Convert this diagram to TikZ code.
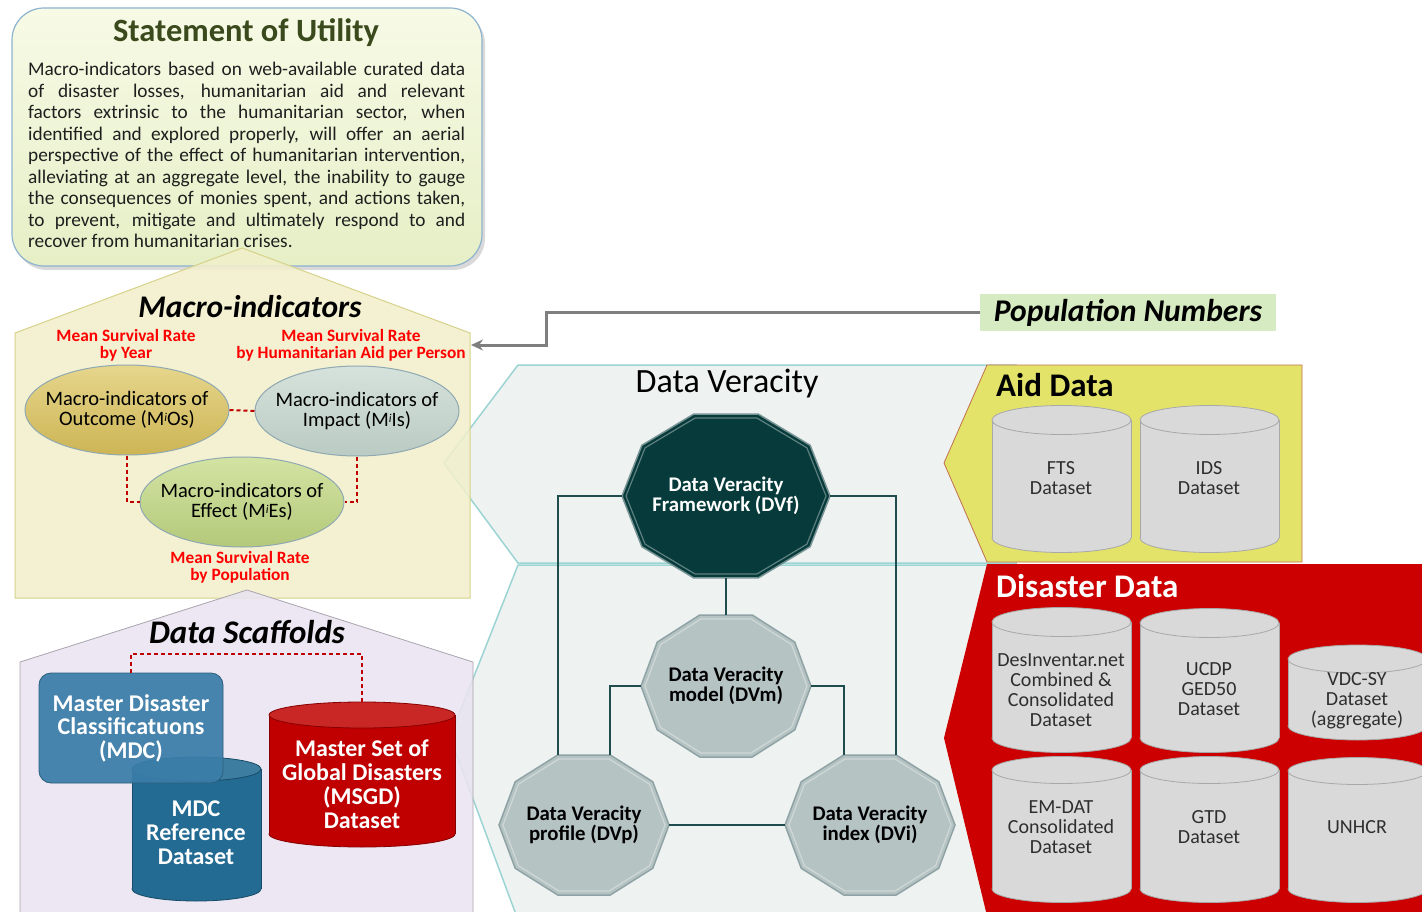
\documentclass[tikz,border=0pt]{standalone}
\usepackage{fontspec}
\setmainfont{Carlito}
\usetikzlibrary{calc,shadows,arrows.meta,shapes.geometric}
\definecolor{stmtline}{HTML}{8DB3CF}
\definecolor{stmttop}{HTML}{F7FAE6}
\definecolor{stmtbot}{HTML}{E6EFC6}
\definecolor{olivetxt}{HTML}{3A4A1C}
\definecolor{macrofill}{HTML}{F1EFCB}
\definecolor{macroline}{HTML}{D6D28A}
\definecolor{scaffill}{HTML}{E9E4F0}
\definecolor{scafline}{HTML}{A9A4AE}
\definecolor{msrred}{HTML}{FF0000}
\definecolor{dashred}{HTML}{C00000}
\definecolor{outtop}{HTML}{E6D68C}
\definecolor{outbot}{HTML}{CDB555}
\definecolor{imptop}{HTML}{D6E2DC}
\definecolor{impbot}{HTML}{BACBC3}
\definecolor{efftop}{HTML}{D3E3A3}
\definecolor{effbot}{HTML}{B4C97A}
\definecolor{ellline}{HTML}{8FA8B2}
\definecolor{mdcblue}{HTML}{3A7DA8}
\definecolor{mdcdark}{HTML}{236B93}
\definecolor{msgdred}{HTML}{C00000}
\definecolor{dvbandfill}{HTML}{EEF2F1}
\definecolor{dvbandline}{HTML}{9CD4D4}
\definecolor{dvfdark}{HTML}{073B3B}
\definecolor{dvgrey}{HTML}{B6C3C3}
\definecolor{dvgreyline}{HTML}{8FA3A6}
\definecolor{dvconn}{HTML}{1F4D4D}
\definecolor{aidfill}{HTML}{E3E369}
\definecolor{aidline}{HTML}{C0704D}
\definecolor{disfill}{HTML}{CC0000}
\definecolor{cylfill}{HTML}{D9D9D9}
\definecolor{cylline}{HTML}{A8A8A8}
\definecolor{popfill}{HTML}{D6EBC1}
\definecolor{arrowgrey}{HTML}{7F7F7F}

\newcommand\setfs[2]{\fontsize{#1}{#2}\selectfont}
\newcommand\supi{\raisebox{0.45ex}{\fontsize{12}{12}\selectfont\itshape i}}

% cylinder body: x1, x2, y top-centre, y bottom-centre, ry, body style, top style
\newcommand\cylbody[7]{%
  \pgfmathsetmacro\cylcx{(#1+#2)/2}%
  \pgfmathsetmacro\cylrx{(#2-#1)/2}%
  \path[#6] (\cylcx,#4) ellipse [x radius=\cylrx, y radius=#5];
  \fill[#6,draw=none] (#1,#3) rectangle (#2,#4);
  \draw[#6] (#1,#3) -- (#1,#4) (#2,#3) -- (#2,#4);
  \path[#7] (\cylcx,#3) ellipse [x radius=\cylrx, y radius=#5];
}
% decagon: cx, cy, rx, half height (flat top), style
\newcommand\decpath[3]{%
  (0:#1 and #2) -- (36:#1 and #2) -- (72:#1 and #2)
      -- (108:#1 and #2) -- (144:#1 and #2) -- (180:#1 and #2)
      -- (216:#1 and #2) -- (252:#1 and #2) -- (288:#1 and #2)
      -- (324:#1 and #2) -- cycle}
\newcommand\decagon[5]{%
  \pgfmathsetmacro\decry{#4/0.951057}%
  \pgfmathsetmacro\decrx{#3-4}%
  \pgfmathsetmacro\decryi{(#4-4)/0.951057}%
  \begin{scope}[shift={(#1,#2)}]
    \path[#5] \decpath{#3}{\decry}{};
    \path[draw=white, draw opacity=0.35, line width=1.2pt] \decpath{\decrx}{\decryi}{};
  \end{scope}}

\begin{document}
\begin{tikzpicture}[x=1pt,y=-1pt,
  reddash/.style={draw=dashred, line width=2pt, dash pattern=on 4pt off 3pt},
  dvconnector/.style={draw=dvconn, line width=1.4pt},
  redlbl/.style={text=msrred, font=\setfs{17.3}{16.8}\bfseries, align=center, inner sep=0pt},
  macroell/.style={ellipse, minimum width=204pt, minimum height=90pt, inner xsep=-13pt,
    inner ysep=0pt, draw=ellline, line width=1pt, align=center, font=\setfs{20.5}{20.5}},
  cyltext/.style={align=center, font=\setfs{20}{19.8}, text=black!82, inner sep=0pt},
  dvtext/.style={align=center, font=\setfs{20.8}{20}\bfseries, inner sep=0pt},
  dvdark/.style={fill=dvfdark, draw=dvfdark!55!white, line width=1.5pt},
  dvlight/.style={fill=dvgrey, draw=dvgreyline, line width=1.5pt},
  cylgrey/.style={fill=cylfill, draw=cylline, line width=0.8pt},
  cylblue/.style={fill=mdcdark, draw=mdcdark!70!black, line width=0.8pt},
  cylbluetop/.style={fill=mdcdark!88!white, draw=mdcdark!70!black, line width=0.8pt},
  cylred/.style={fill=msgdred, draw=msgdred!70!black, line width=0.8pt},
  cylredtop/.style={fill=msgdred!85!white, draw=msgdred!70!black, line width=0.8pt},
  whitebold/.style={text=white, align=center, inner sep=0pt},
]
\useasboundingbox (0,0) rectangle (1422,912);
\clip (0,0) rectangle (1422,912);

% ---------- Data Veracity bands ----------
\path[fill=dvbandfill, draw=dvbandline, line width=1.5pt]
  (444,463) -- (518,365) -- (1016,365) -- (1016,563) -- (518,563) -- cycle;
\path[fill=dvbandfill, draw=dvbandline, line width=1.5pt]
  (518,565) -- (1016,565) -- (1016,920) -- (518,920) -- (450,737) -- cycle;

% ---------- Aid and Disaster areas ----------
\path[fill=aidfill, draw=aidline, line width=0.8pt]
  (944,463) -- (987,365) -- (1302,365) -- (1302,562) -- (987,562) -- cycle;
\path[fill=disfill]
  (944,738) -- (987,564) -- (1430,564) -- (1430,920) -- (988,920) -- cycle;

% ---------- Statement of Utility box ----------
\node[draw=stmtline, line width=1.2pt, rounded corners=32pt, top color=stmttop,
  bottom color=stmtbot, minimum width=470pt, minimum height=258pt, inner sep=0pt,
  drop shadow={shadow xshift=3pt, shadow yshift=-4pt, opacity=0.3}]
  (stmt) at (247,137) {};

% ---------- houses ----------
\path[fill=macrofill, fill opacity=0.88, draw=macroline, line width=1pt]
  (15,598) -- (15,333) -- (242,248) -- (470,333) -- (470,598) -- cycle;
\path[fill=scaffill, fill opacity=0.88, draw=scafline, line width=0.8pt]
  (20,920) -- (20,662) -- (247,590) -- (473,662) -- (473,920) -- cycle;

% ---------- statement text ----------
\node[font=\setfs{32.5}{36}\bfseries, text=olivetxt, inner sep=0pt] (stmttitle) at (246,33) {Statement of Utility};
\node[anchor=north west, text width=437pt, align=justify, inner sep=0pt,
  font=\setfs{19.3}{21.5}, text=black!88] (stmtbody) at (28,62)
 {\hyphenpenalty=10000 \exhyphenpenalty=10000
  Macro-indicators based on web-available curated data\linebreak
  of disaster losses, humanitarian aid and relevant\linebreak
  factors extrinsic to the humanitarian sector, when\linebreak
  identified and explored properly, will offer an aerial\linebreak
  perspective of the effect of humanitarian intervention,\linebreak
  alleviating at an aggregate level, the inability to gauge\linebreak
  the consequences of monies spent, and actions taken,\linebreak
  to prevent, mitigate and ultimately respond to and\linebreak
  recover from humanitarian crises.};

% ---------- Macro-indicators ----------
\node[font=\setfs{31.5}{36}\bfseries\itshape, inner sep=0pt] (macrotitle) at (250,307) {Macro-indicators};
\node[redlbl] (lblyear) at (126,345) {Mean Survival Rate\\by Year};
\node[redlbl] (lblaid) at (351,345) {Mean Survival Rate\\by Humanitarian Aid per Person};
\node[redlbl] (lblpop) at (240,567) {Mean Survival Rate\\by Population};
\node[macroell, top color=outtop, bottom color=outbot] (outcome) at (127,410)
  {Macro-indicators of\\Outcome (M\supi Os)};
\node[macroell, top color=imptop, bottom color=impbot] (impact) at (357,411)
  {Macro-indicators of\\Impact (M\supi Is)};
\node[macroell, top color=efftop, bottom color=effbot] (effect) at (242,502)
  {Macro-indicators of\\Effect (M\supi Es)};
\draw[reddash] (outcome.east) -- (impact.west);
\draw[reddash] (outcome.south) |- (effect.west);
\draw[reddash] (impact.south) |- (effect.east);

% ---------- Data Scaffolds ----------
\node[font=\setfs{33}{36}\bfseries\itshape, inner sep=0pt] (scaftitle) at (247,632) {Data Scaffolds};
\cylbody{132}{261}{769}{889}{12}{cylblue}{cylbluetop}
\cylbody{269}{455}{715}{834}{13}{cylred}{cylredtop}
\node[rounded corners=12pt, minimum width=184pt, minimum height=110pt, fill=mdcblue,
  fill opacity=0.93, draw=mdcblue!75!black, line width=0.8pt, text opacity=1,
  whitebold, font=\setfs{24}{23.5}\bfseries] (mdc) at (131,728)
  {Master Disaster\\Classificatuons\\(MDC)};
\node[whitebold, font=\setfs{24}{24}\bfseries] (mdcref) at (196,833)
  {MDC\\Reference\\Dataset};
\node[whitebold, font=\setfs{24}{24}\bfseries, minimum width=186pt, minimum height=164pt]
  (msgd) at (362,784) {Master Set of\\Global Disasters\\(MSGD)\\Dataset};
\draw[reddash] (mdc.north) |- ($(msgd.north)+(0,-48)$) -- (msgd.north);

% ---------- Data Veracity ----------
\node[font=\setfs{34}{38}, inner sep=0pt] (dvtitle) at (727,384) {Data Veracity};
\decagon{726}{496}{104}{82}{dvdark}
\decagon{726}{686}{85}{71}{dvlight}
\decagon{584}{825}{85}{70}{dvlight}
\decagon{870}{825}{85}{70}{dvlight}
\node[dvtext, text=white, minimum width=208pt, minimum height=164pt] (dvf) at (726,496)
  {Data Veracity\\Framework (DVf)};
\node[dvtext, minimum width=170pt, minimum height=142pt] (dvm) at (726,686)
  {Data Veracity\\model (DVm)};
\node[dvtext, minimum width=170pt, minimum height=140pt] (dvp) at (584,825)
  {Data Veracity\\profile (DVp)};
\node[dvtext, minimum width=170pt, minimum height=140pt] (dvi) at (870,825)
  {Data Veracity\\index (DVi)};
\draw[dvconnector] (dvf.west) -| ($(dvp.north)+(-26,0)$);
\draw[dvconnector] (dvf.east) -| ($(dvi.north)+(26,0)$);
\draw[dvconnector] (dvf.south) -- (dvm.north);
\draw[dvconnector] (dvm.west) -| ($(dvp.north)+(26,0)$);
\draw[dvconnector] (dvm.east) -| ($(dvi.north)+(-26,0)$);
\draw[dvconnector] (dvp.east) -- (dvi.west);

% ---------- Aid Data ----------
\node[anchor=west, font=\setfs{33}{36}\bfseries, inner sep=0pt] (aidtitle) at (996,385) {Aid Data};
\cylbody{992}{1131}{420}{538}{14.5}{cylgrey}{cylgrey}
\cylbody{1140}{1279}{420}{538}{14.5}{cylgrey}{cylgrey}
\node[cyltext] (fts) at (1061,478) {FTS\\Dataset};
\node[cyltext] (ids) at (1209,478) {IDS\\Dataset};

% ---------- Disaster Data ----------
\node[anchor=west, font=\setfs{33}{36}\bfseries, text=white, inner sep=0pt] (distitle) at (996,586) {Disaster Data};
\cylbody{992}{1131}{622}{738}{14.5}{cylgrey}{cylgrey}
\cylbody{1140}{1279}{623}{738}{14.5}{cylgrey}{cylgrey}
\cylbody{1288}{1427}{659}{726}{14}{cylgrey}{cylgrey}
\cylbody{992}{1131}{770}{889}{13.5}{cylgrey}{cylgrey}
\cylbody{1140}{1279}{770}{889}{13.5}{cylgrey}{cylgrey}
\cylbody{1288}{1427}{771}{889}{13.5}{cylgrey}{cylgrey}
\node[cyltext] (desinv) at (1061,690) {DesInventar.net\\Combined \&\\Consolidated\\Dataset};
\node[cyltext] (ucdp) at (1209,689) {UCDP\\GED50\\Dataset};
\node[cyltext] (vdc) at (1357,701) {VDC-SY\\Dataset\\(aggregate)};
\node[cyltext] (emdat) at (1061,827) {EM-DAT\\Consolidated\\Dataset};
\node[cyltext] (gtd) at (1209,827) {GTD\\Dataset};
\node[cyltext] (unhcr) at (1357,827) {UNHCR};

% ---------- Population Numbers ----------
\node[fill=popfill, minimum width=296pt, minimum height=37pt, inner sep=0pt,
  font=\setfs{31.6}{34}\bfseries\itshape] (pop) at (1128,312.5) {Population Numbers};
\coordinate (macroedge) at (471,345);
\draw[draw=arrowgrey, line width=3pt, -{Stealth[length=12pt, width=11pt]}]
  (pop.west) -| ($(macroedge)+(75,0)$) -- (macroedge);
\end{tikzpicture}
\end{document}
